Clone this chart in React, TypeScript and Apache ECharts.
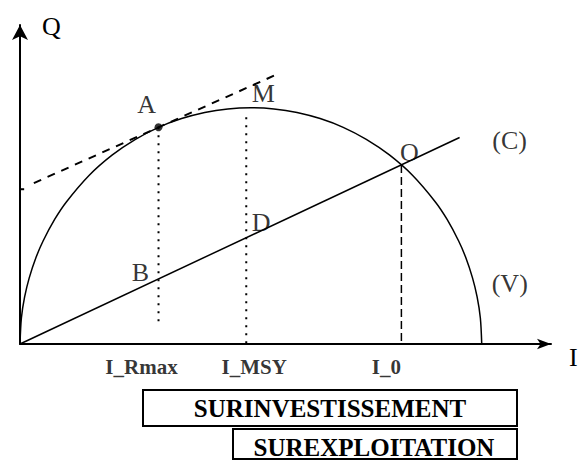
import React, { useEffect, useRef } from "react";
import * as echarts from "echarts";

// Yield curve (V): effort I versus catch Q
const curveI = [0, 0.3, 1, 2, 3.5, 5, 7.5, 10, 15, 20, 25, 30, 35, 40, 45, 50, 55, 60, 65, 70, 75, 80, 85, 90, 92.5, 95, 96.5, 98, 99, 99.7, 100];
const curveQ = [0, 11, 19.9, 28, 36.8, 43.6, 52.7, 60, 71.4, 80, 86.6, 91.7, 95.4, 98, 99.5, 100, 99.5, 98, 95.4, 91.7, 86.6, 80, 71.4, 60, 52.7, 43.6, 36.8, 28, 19.9, 11, 0];

// Cost line (C)
const lineCI = [0, 95.2];
const lineCQ = [0, 87.4];

// Tangent at A (dashed)
const tangentI = [3, 55.4];
const tangentQ = [68.1, 113.9];

// Tick labels on the effort axis
const tickLabels = ["I_Rmax", "I_MSY", "I_0"];
const tickValues = [30, 49, 82.6];
const guideTop = [91.7, 96, 75.8];
const guideBottom = [8, 0, 0];

// Named points
const pointNames = ["A", "M", "B", "D", "O"];
const pointI = [30, 49, 30, 49, 82.6];
const pointQ = [91.7, 100, 27.5, 45.0, 75.8];

// Curve names
const curveNames = ["(C)", "(V)"];

// Zones
const zoneNames = ["SURINVESTISSEMENT", "SUREXPLOITATION"];

// Small mark on the Q axis (tangent intercept)
const yMarkQ = 65.5;

const SERIF = "'Liberation Serif', 'DejaVu Serif', serif";

export default function App() {
  const ref = useRef<HTMLDivElement>(null);

  useEffect(() => {
    if (!ref.current) return;
    const chart = echarts.init(ref.current, undefined, { renderer: "svg" });

    const pointOffsets: [number, number][] = [
      [-12, -23],
      [17, -14],
      [-18, -7],
      [15, -15],
      [8, -12],
    ];
    const tickOffsets = [-17, 8, -15];

    const guideStyles = [
      { type: [2, 6], width: 2 },
      { type: [2, 6], width: 2 },
      { type: [8, 4], width: 1.5 },
    ];

    const series: any[] = [
      {
        type: "line",
        name: "V",
        data: curveI.map((v, i) => [v, curveQ[i]]),
        smooth: 0.3,
        symbol: "none",
        lineStyle: { color: "#000", width: 1.5 },
        clip: false,
        z: 3,
      },
      {
        type: "line",
        name: "C",
        data: lineCI.map((v, i) => [v, lineCQ[i]]),
        symbol: "none",
        lineStyle: { color: "#000", width: 1.5 },
        z: 3,
      },
      {
        type: "line",
        name: "tangent",
        data: tangentI.map((v, i) => [v, tangentQ[i]]),
        symbol: "none",
        lineStyle: { color: "#000", width: 2, type: [8, 7] },
        z: 3,
      },
      {
        type: "line",
        name: "ymark",
        data: [
          [-1.1, yMarkQ],
          [0.9, yMarkQ],
        ],
        symbol: "none",
        lineStyle: { color: "#000", width: 2 },
        clip: false,
        z: 3,
      },
      ...tickValues.map((t, i) => ({
        type: "line",
        name: "guide" + i,
        data: [
          [t, guideTop[i]],
          [t, guideBottom[i]],
        ],
        symbol: "none",
        lineStyle: { color: "#000", ...guideStyles[i] },
        z: 2,
      })),
      {
        type: "scatter",
        name: "points",
        clip: false,
        data: pointNames.map((n, i) => ({
          name: n,
          value: [pointI[i], pointQ[i]],
          symbolSize: i === 0 ? 8 : 0,
          label: {
            show: true,
            formatter: n,
            position: "inside",
            offset: pointOffsets[i],
            color: "#000",
            fontFamily: SERIF,
            fontSize: 26,
          },
        })),
        itemStyle: { color: "#000" },
        z: 5,
      },
      {
        type: "scatter",
        name: "curveNames",
        clip: false,
        symbolSize: 0,
        data: [
          {
            name: curveNames[0],
            value: [lineCI[1], lineCQ[1]],
            label: { offset: [50, 3] },
          },
          {
            name: curveNames[1],
            value: [curveI[curveI.length - 1], curveQ[curveQ.length - 1]],
            label: { offset: [28, -61] },
          },
        ],
        label: {
          show: true,
          formatter: "{b}",
          position: "inside",
          color: "#000",
          fontFamily: SERIF,
          fontSize: 26,
        },
        z: 5,
      },
      {
        type: "scatter",
        name: "ticks",
        clip: false,
        symbolSize: 0,
        data: tickValues.map((t, i) => ({
          name: tickLabels[i],
          value: [t, 0],
          label: { offset: [tickOffsets[i], 0] },
        })),
        label: {
          show: true,
          formatter: "{b}",
          position: "bottom",
          distance: 12,
          color: "#000",
          fontFamily: SERIF,
          fontWeight: "bold",
          fontSize: 21,
        },
        z: 5,
      },
    ];

    chart.setOption({
      animation: false,
      backgroundColor: "#fff",
      grid: {
        left: 20,
        right: 29,
        top: 25,
        bottom: 116,
        containLabel: false,
        outerBoundsMode: "none",
      },
      xAxis: {
        type: "value",
        min: 0,
        max: 115,
        name: "I",
        nameLocation: "end",
        nameGap: 18,
        nameTextStyle: {
          color: "#000",
          fontFamily: SERIF,
          fontSize: 26,
          align: "left",
          verticalAlign: "top",
          padding: [0, 0, 0, 0],
        },
        axisLine: {
          show: true,
          symbol: ["none", "arrow"],
          symbolSize: [8, 14],
          lineStyle: { color: "#000", width: 2 },
        },
        axisTick: { show: false },
        axisLabel: { show: false },
        splitLine: { show: false },
      },
      yAxis: {
        type: "value",
        min: 0,
        max: 135,
        name: "Q",
        nameLocation: "end",
        nameGap: -1,
        nameTextStyle: {
          color: "#000",
          fontFamily: SERIF,
          fontSize: 26,
          align: "left",
          verticalAlign: "middle",
          padding: [0, 0, 0, 22],
        },
        axisLine: {
          show: true,
          symbol: ["none", "arrow"],
          symbolSize: [12, 15],
          lineStyle: { color: "#000", width: 2 },
        },
        axisTick: { show: false },
        axisLabel: { show: false },
        splitLine: { show: false },
      },
      series,
      graphic: [
        {
          type: "rect",
          shape: { x: 143, y: 390, width: 374, height: 36 },
          style: { fill: "#fff", stroke: "#000", lineWidth: 2 },
          z: 10,
        },
        {
          type: "text",
          x: 330,
          y: 408,
          style: {
            text: zoneNames[0],
            fill: "#000",
            font: "bold 25px " + SERIF,
            align: "center",
            verticalAlign: "middle",
          },
          z: 11,
        },
        {
          type: "rect",
          shape: { x: 233, y: 429, width: 284, height: 30 },
          style: { fill: "#fff", stroke: "#000", lineWidth: 2 },
          z: 10,
        },
        {
          type: "text",
          x: 374,
          y: 447,
          style: {
            text: zoneNames[1],
            fill: "#000",
            font: "bold 25px " + SERIF,
            align: "center",
            verticalAlign: "middle",
          },
          z: 11,
        },
      ],
    });

    return () => chart.dispose();
  }, []);

  return (
    <div
      ref={ref}
      style={{
        position: "absolute",
        left: 0,
        top: 0,
        width: 580,
        height: 460,
        background: "#fff",
      }}
    />
  );
}
